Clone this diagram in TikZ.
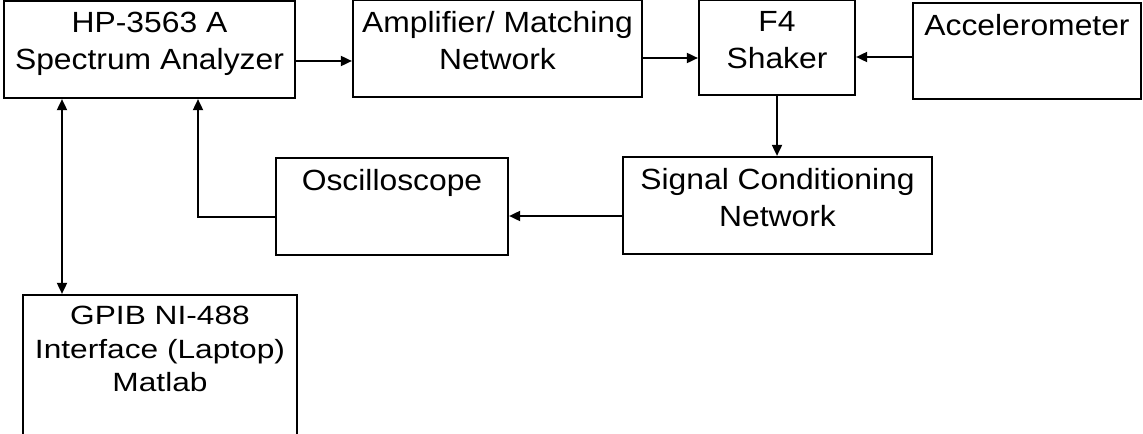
\documentclass[tikz,border=0pt]{standalone}
\usepackage{fontspec}
\setmainfont{Liberation Sans}[FakeStretch=1.09]
\newfontfamily\gpibfont{Liberation Sans}[FakeStretch=1.2]
\usetikzlibrary{arrows.meta}

\begin{document}
\begin{tikzpicture}[x=0.5pt, y=-0.5pt,
  blk/.style={draw, line width=1.1pt, inner sep=0pt},
  txt/.style={anchor=north, inner sep=0pt, yshift=-6pt, align=center,
    font=\fontsize{14.6}{18.5}\selectfont},
  arr/.style={line width=0.9pt, -{Triangle[length=5.5pt,width=5pt]}},
  dbl/.style={line width=0.9pt, {Triangle[length=5.5pt,width=5pt]}-{Triangle[length=5.5pt,width=5pt]}}]

  \useasboundingbox (0,0) rectangle (1143,433);

  % top row
  \node[blk, minimum width=145.5pt, minimum height=48.5pt] (hp) at (149.5,49.5) {};
  \node[blk, minimum width=144.5pt, minimum height=48.5pt] (amp) at (497.5,48.5) {};
  \node[blk, minimum width=78pt, minimum height=47.5pt] (shaker) at (777,47.5) {};
  \node[blk, minimum width=114pt, minimum height=48pt] (accel) at (1027,51) {};

  % middle row
  \node[blk, minimum width=116pt, minimum height=48.5pt] (osc) at (392,206.5) {};
  \node[blk, minimum width=154.5pt, minimum height=48.5pt] (sig) at (777.5,205.5) {};

  % laptop, runs off the bottom
  \node[blk, minimum width=137pt, minimum height=100pt] (gpib) at (160,395) {};

  % texts
  \node[txt] (hpT) at (hp.north) {HP-3563 A\\Spectrum Analyzer};
  \node[txt] (ampT) at (amp.north) {Amplifier/ Matching\\Network};
  \node[txt] (shakerT) at (shaker.north) {F4\\Shaker};
  \node[txt] (accelT) at (accel.north) {Accelerometer};
  \node[txt] (oscT) at (osc.north) {Oscilloscope};
  \node[txt] (sigT) at (sig.north) {Signal Conditioning\\Network};
  \node[txt, font=\gpibfont\fontsize{13.2}{16.75}\selectfont] (gpibT) at (gpib.north)
    {GPIB NI-488\\Interface (Laptop)\\Matlab};

  % signal path
  \draw[arr] ([yshift=-5.75pt]hp.east) -- ([yshift=-5.75pt]hp.east -| amp.west);
  \draw[arr] ([yshift=-4.75pt]amp.east) -- ([yshift=-4.75pt]amp.east -| shaker.west);
  \draw[arr] ([yshift=-3pt]accel.west) -- ([yshift=-3pt]accel.west -| shaker.east);
  \draw[arr] (shaker.south) -- (shaker.south |- sig.north);
  \draw[arr] ([yshift=-5.25pt]sig.west) -- ([yshift=-5.25pt]sig.west -| osc.east);

  % back to the analyzer
  \coordinate (scopein) at (198,0);
  \draw[arr] ([yshift=-5.25pt]osc.west) -| (scopein |- hp.south);

  % gpib link
  \coordinate (gpibx) at (62,0);
  \draw[dbl] (gpibx |- hp.south) -- (gpibx |- gpib.north);

\end{tikzpicture}
\end{document}
